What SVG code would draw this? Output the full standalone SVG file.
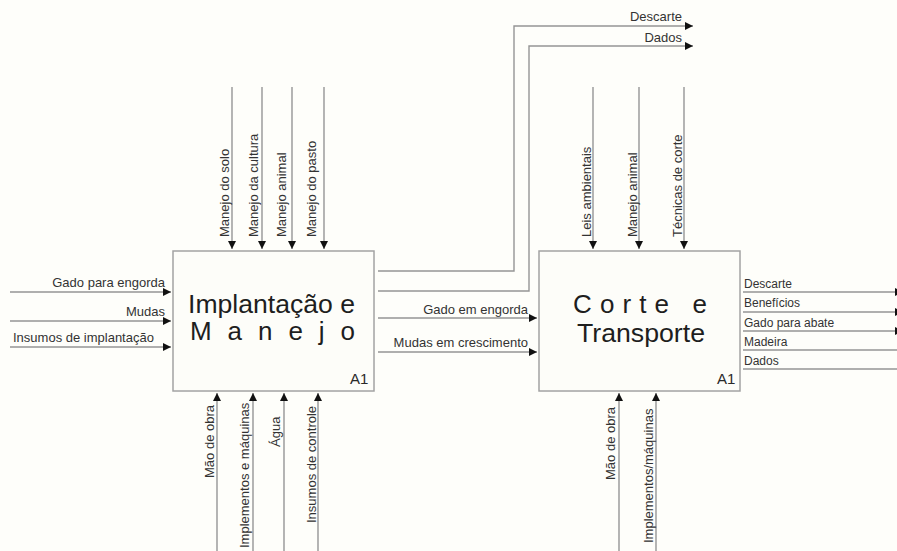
<svg xmlns="http://www.w3.org/2000/svg" width="897" height="551" viewBox="0 0 897 551">
<style>
  .bg { fill: #fefefa; }
  .box { fill: #fdfdf9; stroke: #a3a3a3; stroke-width: 1.5; }
  .ln { fill: none; stroke: #959595; stroke-width: 1.4; }
  .lbl { font-family: "Liberation Sans", Arial, sans-serif; font-size: 13px; fill: #333; }
  .lbls { font-family: "Liberation Sans", Arial, sans-serif; font-size: 12px; fill: #333; }
  .title { font-family: "Liberation Sans", Arial, sans-serif; font-size: 26px; fill: #1e1e1e; }
  .code { font-family: "Liberation Sans", Arial, sans-serif; font-size: 15px; fill: #2a2a2a; }
</style>
<defs>
  <marker id="arr" markerUnits="userSpaceOnUse" markerWidth="9" markerHeight="9" refX="8" refY="4" orient="auto">
    <path d="M0,0 L8,4 L0,8 Z" fill="#111"/>
  </marker>
</defs>
<rect class="bg" x="0" y="0" width="897" height="551"/>

<g id="connectors">
  <path class="ln" d="M10,292 H171" marker-end="url(#arr)"/>
  <path class="ln" d="M10,321 H171" marker-end="url(#arr)"/>
  <path class="ln" d="M10,347 H171" marker-end="url(#arr)"/>
  <path class="ln" d="M232,87 V249" marker-end="url(#arr)"/>
  <path class="ln" d="M262,87 V249" marker-end="url(#arr)"/>
  <path class="ln" d="M292,87 V249" marker-end="url(#arr)"/>
  <path class="ln" d="M324,87 V249" marker-end="url(#arr)"/>
  <path class="ln" d="M217,551 V393" marker-end="url(#arr)"/>
  <path class="ln" d="M253,551 V393" marker-end="url(#arr)"/>
  <path class="ln" d="M284,551 V393" marker-end="url(#arr)"/>
  <path class="ln" d="M318,551 V393" marker-end="url(#arr)"/>
  <path class="ln" d="M378,271 H514 V26 H693" marker-end="url(#arr)"/>
  <path class="ln" d="M378,291 H529 V46 H693" marker-end="url(#arr)"/>
  <path class="ln" d="M378,318 H537" marker-end="url(#arr)"/>
  <path class="ln" d="M378,352 H537" marker-end="url(#arr)"/>
  <path class="ln" d="M593,87 V249" marker-end="url(#arr)"/>
  <path class="ln" d="M639,87 V249" marker-end="url(#arr)"/>
  <path class="ln" d="M684,87 V249" marker-end="url(#arr)"/>
  <path class="ln" d="M619,551 V393" marker-end="url(#arr)"/>
  <path class="ln" d="M656,551 V393" marker-end="url(#arr)"/>
  <path class="ln" d="M743,292 H903" marker-end="url(#arr)"/>
  <path class="ln" d="M743,312 H903" marker-end="url(#arr)"/>
  <path class="ln" d="M743,331 H903" marker-end="url(#arr)"/>
  <path class="ln" d="M743,350 H897"/>
  <path class="ln" d="M743,369 H897"/>
</g>

<g id="labels">
  <text class="lbl" x="165" y="287" text-anchor="end">Gado para engorda</text>
  <text class="lbl" x="165" y="316" text-anchor="end">Mudas</text>
  <text class="lbl" x="13" y="342">Insumos de implantação</text>

  <text class="lbl" transform="translate(229,237) rotate(-90)">Manejo do solo</text>
  <text class="lbl" transform="translate(258,237) rotate(-90)">Manejo da cultura</text>
  <text class="lbl" transform="translate(286,237) rotate(-90)">Manejo animal</text>
  <text class="lbl" transform="translate(316,237) rotate(-90)">Manejo do pasto</text>

  <text class="lbl" transform="translate(214,478) rotate(-90)">Mão de obra</text>
  <text class="lbl" transform="translate(249,548) rotate(-90)">Implementos e máquinas</text>
  <text class="lbl" transform="translate(280,447) rotate(-90)">Água</text>
  <text class="lbl" transform="translate(316,523) rotate(-90)">Insumos de controle</text>

  <text class="lbl" x="682" y="21" text-anchor="end">Descarte</text>
  <text class="lbl" x="682" y="42" text-anchor="end">Dados</text>

  <text class="lbl" x="528" y="314" text-anchor="end">Gado em engorda</text>
  <text class="lbl" x="528" y="347" text-anchor="end">Mudas em crescimento</text>

  <text class="lbl" transform="translate(591,237) rotate(-90)">Leis ambientais</text>
  <text class="lbl" transform="translate(637,237) rotate(-90)">Manejo animal</text>
  <text class="lbl" transform="translate(682,237) rotate(-90)">Técnicas de corte</text>

  <text class="lbl" transform="translate(615,480) rotate(-90)">Mão de obra</text>
  <text class="lbl" transform="translate(653,543) rotate(-90)">Implementos/máquinas</text>

  <text class="lbls" x="744" y="288">Descarte</text>
  <text class="lbls" x="744" y="307">Benefícios</text>
  <text class="lbls" x="744" y="327">Gado para abate</text>
  <text class="lbls" x="744" y="346">Madeira</text>
  <text class="lbls" x="744" y="365">Dados</text>
</g>

<g id="node-A1-implantacao">
  <rect class="box" x="173" y="251" width="201" height="140"/>
  <text class="title" x="188" y="313" textLength="167" lengthAdjust="spacingAndGlyphs">Implantação e</text>
  <text class="title" x="190" y="340" textLength="165" lengthAdjust="spacing">Manejo</text>
  <text class="code" x="350" y="384">A1</text>
</g>

<g id="node-A1-corte">
  <rect class="box" x="539" y="251" width="201" height="140"/>
  <text class="title" x="573" y="313" textLength="134" lengthAdjust="spacing">Corte e</text>
  <text class="title" x="577" y="342" textLength="128" lengthAdjust="spacingAndGlyphs">Transporte</text>
  <text class="code" x="717" y="384">A1</text>
</g>
</svg>
